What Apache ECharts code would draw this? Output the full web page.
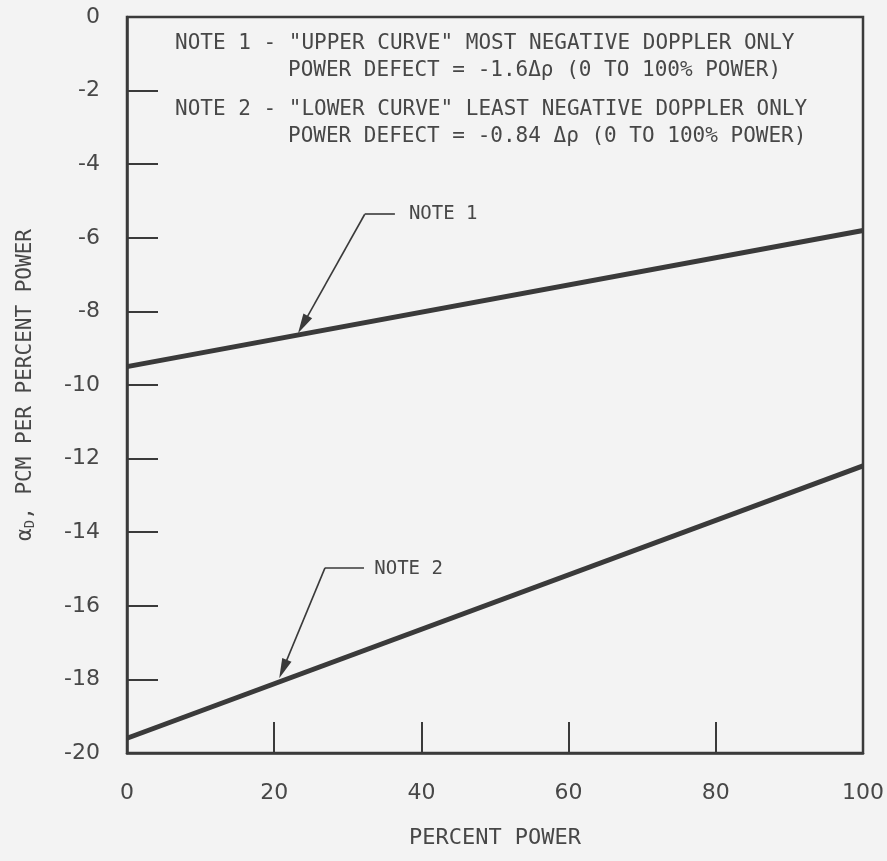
<!DOCTYPE html>
<html>
<head>
<meta charset="utf-8">
<script src="https://cdn.jsdelivr.net/npm/echarts@6/dist/echarts.min.js"></script>
<style>
  html, body { margin: 0; padding: 0; background: #f3f3f3; }
  #chart { width: 887px; height: 861px; }
</style>
</head>
<body>
<div id="chart"></div>
<script>
// Doppler-only power coefficient versus percent power
const powerPct = [0, 100];
const upperCurve = [-9.5, -5.8];    // most negative Doppler only
const lowerCurve = [-19.6, -12.2];  // least negative Doppler only
const xTicks = [0, 20, 40, 60, 80, 100];
const yTicks = [0, -2, -4, -6, -8, -10, -12, -14, -16, -18, -20];

// Leader lines for the curve callouts: label anchor, elbow segment, arrowhead centre
const note1Leader = { text: 'NOTE 1', label: [38.3, -5.36], elbowEnd: [36.4, -5.36], elbow: [32.3, -5.36], tip: [23.9, -8.36] };
const note2Leader = { text: 'NOTE 2', label: [33.6, -15.0], elbowEnd: [32.2, -14.97], elbow: [26.9, -14.97], tip: [21.2, -17.72] };

const noteLines = [
  'NOTE 1 - "UPPER CURVE" MOST NEGATIVE DOPPLER ONLY',
  'POWER DEFECT = -1.6Δρ (0 TO 100% POWER)',
  'NOTE 2 - "LOWER CURVE" LEAST NEGATIVE DOPPLER ONLY',
  'POWER DEFECT = -0.84 Δρ (0 TO 100% POWER)'
];

const ink = '#3a3a3a';
const textInk = '#474747';
const mono = '"DejaVu Sans Mono", monospace';
const sans = '"DejaVu Sans", sans-serif';

const pairs = (ys) => powerPct.map((x, i) => [x, ys[i]]);

function leaderMarks(n) {
  return {
    silent: true,
    symbol: ['none', 'none'],
    lineStyle: { color: ink, width: 1.6, type: 'solid' },
    label: { show: false },
    data: [
      [{ coord: n.elbowEnd, symbol: 'none' }, { coord: n.elbow, symbol: 'none' }],
      [{ coord: n.elbow, symbol: 'none' }, { coord: n.tip, symbol: 'triangle', symbolSize: [10, 20] }]
    ]
  };
}

function noteLabel(n) {
  return {
    silent: true,
    symbol: 'circle',
    symbolSize: 0,
    label: {
      show: true,
      position: 'right',
      distance: 0,
      formatter: n.text,
      fontFamily: mono,
      fontSize: 19,
      color: textInk
    },
    data: [{ coord: n.label }]
  };
}

const chart = echarts.init(document.getElementById('chart'), null, { renderer: 'canvas' });

chart.setOption({
  backgroundColor: '#f3f3f3',
  animation: false,
  grid: {
    left: 127, right: 20, top: 17, bottom: 108,
    show: true,
    borderColor: ink,
    borderWidth: 2.5,
    backgroundColor: 'transparent'
  },
  xAxis: {
    type: 'value',
    min: xTicks[0],
    max: xTicks[xTicks.length - 1],
    interval: 20,
    name: 'PERCENT POWER',
    nameLocation: 'middle',
    nameGap: 74,
    nameTextStyle: { fontFamily: mono, fontSize: 22, color: textInk },
    axisLine: { show: true, onZero: false, lineStyle: { color: ink, width: 2.5 } },
    axisTick: { show: true, inside: true, length: 31, lineStyle: { color: ink, width: 2 } },
    axisLabel: { margin: 29, fontFamily: sans, fontSize: 22, color: textInk },
    splitLine: { show: false }
  },
  yAxis: {
    type: 'value',
    min: yTicks[yTicks.length - 1],
    max: yTicks[0],
    interval: 2,
    name: '{a|α}{s|D}{a|, PCM PER PERCENT POWER}',
    nameLocation: 'middle',
    nameGap: 90,
    nameTextStyle: {
      fontFamily: mono, fontSize: 21, color: textInk,
      rich: {
        a: { fontFamily: mono, fontSize: 21, color: textInk },
        s: { fontFamily: mono, fontSize: 14, color: textInk, verticalAlign: 'bottom', padding: [8, 0, 0, 0] }
      }
    },
    axisLine: { show: true, onZero: false, lineStyle: { color: ink, width: 2.5 } },
    axisTick: { show: true, inside: true, length: 31, lineStyle: { color: ink, width: 2 } },
    axisLabel: { margin: 27, fontFamily: sans, fontSize: 22, color: textInk },
    splitLine: { show: false }
  },
  series: [
    {
      name: 'Upper curve',
      type: 'line',
      data: pairs(upperCurve),
      showSymbol: false,
      lineStyle: { color: ink, width: 5 },
      markLine: leaderMarks(note1Leader),
      markPoint: noteLabel(note1Leader)
    },
    {
      name: 'Lower curve',
      type: 'line',
      data: pairs(lowerCurve),
      showSymbol: false,
      lineStyle: { color: ink, width: 5 },
      markLine: leaderMarks(note2Leader),
      markPoint: noteLabel(note2Leader)
    }
  ],
  graphic: [
    { type: 'text', left: 175, top: 33, style: { text: noteLines[0], font: '21px ' + mono, fill: textInk } },
    { type: 'text', left: 288, top: 60, style: { text: noteLines[1], font: '21px ' + mono, fill: textInk } },
    { type: 'text', left: 175, top: 99, style: { text: noteLines[2], font: '21px ' + mono, fill: textInk } },
    { type: 'text', left: 288, top: 126, style: { text: noteLines[3], font: '21px ' + mono, fill: textInk } }
  ]
});
</script>
</body>
</html>
